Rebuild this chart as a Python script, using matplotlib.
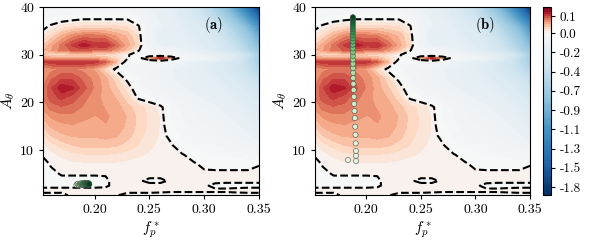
import numpy as np
import matplotlib
matplotlib.use("Agg")
import matplotlib.pyplot as plt
from matplotlib.colors import TwoSlopeNorm

plt.rcParams["font.family"] = "serif"
plt.rcParams["font.serif"] = ["cmr10"]
plt.rcParams["mathtext.fontset"] = "cm"
plt.rcParams["axes.unicode_minus"] = False
plt.rcParams["axes.formatter.use_mathtext"] = False

# grid of the map: peak frequency f_p^* (columns) and amplitude A_theta (rows)
f_vals = [0.153, 0.16, 0.17, 0.18, 0.19, 0.20, 0.21, 0.22, 0.23, 0.24, 0.25,
          0.26, 0.27, 0.28, 0.29, 0.30, 0.31, 0.32, 0.33, 0.34, 0.35]
a_vals = [0.5, 1.5, 2.5, 3.5, 5, 7, 9, 11, 13, 15, 17, 19, 21, 23, 25, 27,
          28.5, 29.3, 30, 31, 32, 34, 36, 38, 40]

# field values, one row per A value
z_rows = [
    [-0.004, -0.004, -0.004, 0.003, 0.003, 0.003, 0.003, 0.001, -0.004, -0.004, -0.004, -0.004, -0.004, -0.004, -0.004, -0.004, -0.004, -0.004, -0.004, -0.004, -0.004],
    [0.004, 0.004, 0.004, 0.004, 0.004, 0.004, 0.004, 0.004, 0.004, 0.004, 0.004, 0.003, 0.002, 0.002, 0.002, 0.002, 0.002, 0.002, 0.003, 0.004, 0.004],
    [-0.003, -0.003, -0.003, -0.003, -0.003, -0.003, -0.002, 0.004, 0.004, 0.004, 0.004, 0.004, 0.004, 0.004, 0.004, 0.002, -0.003, -0.003, -0.003, -0.003, -0.003],
    [-0.004, -0.003, -0.003, -0.003, -0.003, -0.003, -0.002, 0.004, 0.004, 0.002, -0.003, -0.003, 0.002, 0.004, 0.004, 0.004, 0.003, 0.002, 0.002, 0.002, 0.002],
    [-0.006, -0.003, 0.001, 0.001, 0.001, 0.001, 0.001, 0.004, 0.005, 0.005, 0.005, 0.005, 0.005, 0.005, 0.005, 0.005, 0.005, 0.005, 0.005, 0.005, 0.005],
    [-0.006, 0.001, 0.006, 0.009, 0.01, 0.01, 0.01, 0.01, 0.009, 0.008, 0.008, 0.008, 0.008, 0.008, 0.004, -0.006, -0.008, -0.008, -0.008, -0.008, -0.001],
    [0.002, 0.008, 0.016, 0.022, 0.025, 0.026, 0.026, 0.024, 0.02, 0.015, 0.012, 0.009, 0.006, 0.002, -0.01, -0.02, -0.03, -0.03, -0.04, -0.05, -0.06],
    [0.01, 0.02, 0.032, 0.04, 0.045, 0.045, 0.045, 0.042, 0.035, 0.026, 0.016, 0.01, 0.003, -0.02, -0.03, -0.04, -0.05, -0.06, -0.07, -0.09, -0.11],
    [0.025, 0.04, 0.05, 0.055, 0.055, 0.055, 0.058, 0.055, 0.045, 0.032, 0.02, 0.012, -0.01, -0.03, -0.05, -0.06, -0.07, -0.08, -0.1, -0.12, -0.15],
    [0.04, 0.055, 0.062, 0.065, 0.062, 0.062, 0.066, 0.062, 0.05, 0.036, 0.024, 0.012, -0.02, -0.04, -0.06, -0.07, -0.08, -0.1, -0.12, -0.15, -0.19],
    [0.055, 0.068, 0.075, 0.075, 0.07, 0.066, 0.068, 0.064, 0.052, 0.036, 0.024, 0.012, -0.03, -0.05, -0.07, -0.09, -0.1, -0.12, -0.14, -0.18, -0.23],
    [0.07, 0.085, 0.092, 0.088, 0.078, 0.07, 0.066, 0.06, 0.045, 0.032, 0.022, 0.008, -0.03, -0.06, -0.08, -0.1, -0.12, -0.14, -0.17, -0.21, -0.27],
    [0.08, 0.1, 0.11, 0.1, 0.085, 0.072, 0.062, 0.052, 0.032, -0.005, -0.02, -0.04, -0.07, -0.09, -0.11, -0.13, -0.15, -0.18, -0.21, -0.26, -0.32],
    [0.08, 0.105, 0.13, 0.122, 0.098, 0.078, 0.06, 0.042, 0.02, -0.03, -0.06, -0.08, -0.1, -0.12, -0.14, -0.16, -0.18, -0.21, -0.25, -0.3, -0.38],
    [0.07, 0.09, 0.105, 0.105, 0.09, 0.075, 0.058, 0.03, -0.01, -0.05, -0.08, -0.1, -0.12, -0.14, -0.16, -0.18, -0.21, -0.25, -0.3, -0.36, -0.45],
    [0.065, 0.075, 0.082, 0.082, 0.075, 0.065, 0.03, -0.01, -0.04, -0.06, -0.08, -0.1, -0.12, -0.14, -0.17, -0.2, -0.24, -0.29, -0.35, -0.43, -0.55],
    [0.105, 0.115, 0.12, 0.12, 0.12, 0.115, 0.095, 0.05, -0.02, -0.04, -0.05, -0.06, -0.08, -0.1, -0.14, -0.18, -0.22, -0.28, -0.35, -0.45, -0.62],
    [0.07, 0.065, 0.06, 0.06, 0.06, 0.06, 0.05, 0.03, 0.003, -0.02, 0.05, 0.13, 0.06, -0.03, -0.06, -0.09, -0.13, -0.2, -0.3, -0.45, -0.62],
    [0.04, 0.03, 0.03, 0.03, 0.03, 0.03, 0.03, 0.02, 0.004, -0.02, -0.04, -0.06, -0.07, -0.08, -0.1, -0.13, -0.17, -0.23, -0.3, -0.42, -0.62],
    [0.05, 0.065, 0.085, 0.095, 0.1, 0.09, 0.09, 0.07, 0.045, 0.005, -0.05, -0.08, -0.1, -0.12, -0.16, -0.21, -0.26, -0.33, -0.42, -0.55, -0.72],
    [0.04, 0.06, 0.085, 0.11, 0.13, 0.115, 0.12, 0.09, 0.06, 0.03, -0.08, -0.14, -0.15, -0.16, -0.2, -0.23, -0.28, -0.36, -0.45, -0.6, -0.8],
    [0.015, 0.03, 0.055, 0.075, 0.085, 0.085, 0.08, 0.065, 0.05, 0.025, -0.1, -0.16, -0.17, -0.18, -0.22, -0.26, -0.33, -0.42, -0.55, -0.7, -0.95],
    [-0.01, 0.005, 0.018, 0.025, 0.028, 0.028, 0.028, 0.028, 0.025, 0.005, -0.08, -0.12, -0.15, -0.2, -0.25, -0.3, -0.4, -0.5, -0.65, -0.85, -1.15],
    [-0.04, -0.03, -0.02, -0.015, -0.01, -0.01, -0.01, -0.01, -0.01, -0.05, -0.1, -0.14, -0.18, -0.24, -0.3, -0.38, -0.5, -0.65, -0.85, -1.1, -1.45],
    [-0.06, -0.06, -0.06, -0.06, -0.06, -0.07, -0.07, -0.08, -0.09, -0.11, -0.13, -0.16, -0.2, -0.27, -0.35, -0.45, -0.6, -0.8, -1.05, -1.4, -1.84],
]

# trajectory points
traj_a_f = [0.1835, 0.1845, 0.1855, 0.1866, 0.1875, 0.1884, 0.1890, 0.1896, 0.1902, 0.1908,
            0.1914, 0.1920, 0.1926, 0.1932, 0.1938, 0.1944, 0.1948, 0.1952]
traj_a_A = [2.7, 2.9, 2.6, 2.8, 3.0, 2.7, 2.9, 2.6, 3.1, 2.8, 3.0, 2.7, 2.9, 3.1, 2.8, 2.6, 3.0, 2.8]

traj_b_f = [0.1832, 0.1906, 0.1906, 0.1905, 0.1903, 0.1901, 0.1898, 0.1895, 0.1892, 0.1889,
            0.1886, 0.1884, 0.1882, 0.1880, 0.1879, 0.1878, 0.1878, 0.1877, 0.1877, 0.1877,
            0.1877, 0.1877, 0.1877, 0.1877, 0.1877, 0.1877, 0.1877, 0.1877, 0.1877, 0.1877,
            0.1877, 0.1877]
traj_b_A = [7.9, 7.7, 8.8, 9.8, 11.4, 13.2, 14.9, 16.7, 18.2, 19.7,
            21.2, 22.6, 23.9, 25.1, 26.2, 27.2, 28.1, 29.0, 29.8, 30.6,
            31.35, 32.1, 32.8, 33.5, 34.15, 34.8, 35.4, 36.0, 36.55, 37.1, 37.55, 37.9]

cb_ticks = [0.106, 0.0, -0.22, -0.44, -0.66, -0.88, -1.10, -1.32, -1.54, -1.76]

F, A = np.meshgrid(f_vals, a_vals)
Z = np.array(z_rows)

vmin, vmax = -1.85, 0.16
levels = np.concatenate([np.linspace(vmin, 0, 76), np.linspace(0, vmax, 13)[1:]])
norm = TwoSlopeNorm(vcenter=0.0, vmin=vmin, vmax=vmax)


def shade(n, p):
    # colour index along a trajectory: pale at the start, dark at the end
    t = np.arange(n) / (n - 1)
    return 0.12 + 0.88 * t ** p


fig = plt.figure(figsize=(5.91, 2.41), dpi=100)
ax1 = fig.add_axes([0.0728, 0.191, 0.3655, 0.779])
ax2 = fig.add_axes([0.533, 0.191, 0.3638, 0.779])
cax = fig.add_axes([0.9193, 0.191, 0.0125, 0.779])

for ax, lab in [(ax1, "(a)"), (ax2, "(b)")]:
    cs = ax.contourf(F, A, Z, levels=levels, cmap="RdBu_r", norm=norm)
    ax.contour(F, A, Z, levels=[0.0], colors="k", linestyles="--", linewidths=1.5)
    ax.set_xlim(0.153, 0.35)
    ax.set_ylim(0.55, 40)
    ax.set_xticks([0.20, 0.25, 0.30, 0.35])
    ax.set_xticklabels(["0.20", "0.25", "0.30", "0.35"])
    ax.set_yticks([10, 20, 30, 40])
    ax.tick_params(labelsize=10, length=3, width=0.8)
    ax.set_xlabel(r"$f_p^*$", fontsize=11, labelpad=2)
    ax.set_ylabel(r"$A_\theta$", fontsize=11)
    ax.yaxis.set_label_coords(-0.12, 0.5)
    ax.text(0.79, 0.905, r"$\mathbf{" + lab + "}$", transform=ax.transAxes,
            fontsize=10.5, ha="center", va="center")

ax1.scatter(traj_a_f, traj_a_A, c=shade(len(traj_a_f), 0.5), cmap="Greens",
            vmin=0, vmax=1, s=14, edgecolors="0.3", linewidths=0.4, zorder=5)
ax2.scatter(traj_b_f, traj_b_A, c=shade(len(traj_b_A), 1.8), cmap="Greens",
            vmin=0, vmax=1, s=14, edgecolors="0.3", linewidths=0.4, zorder=5)

cb = fig.colorbar(cs, cax=cax, ticks=cb_ticks)
cb.ax.set_yticklabels(["%.1f" % t for t in cb_ticks])
cb.ax.tick_params(labelsize=9.5, length=3, width=0.8)
cb.outline.set_linewidth(0.8)

fig.savefig("out.png", dpi=100)
